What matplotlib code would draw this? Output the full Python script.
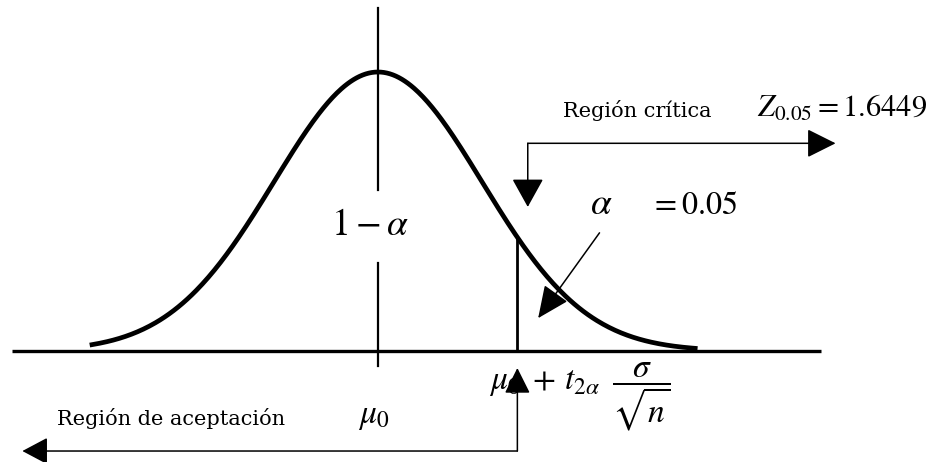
import numpy as np
import matplotlib
matplotlib.use("Agg")
import matplotlib.pyplot as plt

plt.rcParams['font.family'] = ['Liberation Serif', 'DejaVu Serif']
plt.rcParams['mathtext.fontset'] = 'stix'

# data (x in sigma units, y = normal density)
mu = 0.0
sigma = 1.0
crit = 1.34          # where the critical line is drawn
curve_range = [-2.75, 3.05]
axis_range = [-3.52, 4.26]
alpha_label = '0.05'
z_label = '1.6449'

x = np.linspace(curve_range[0], curve_range[1], 400)
y = np.exp(-0.5 * ((x - mu) / sigma) ** 2) / (sigma * np.sqrt(2 * np.pi))
y_crit = np.exp(-0.5 * ((crit - mu) / sigma) ** 2) / (sigma * np.sqrt(2 * np.pi))

fig = plt.figure(figsize=(9.35, 4.62), dpi=100)
ax = fig.add_axes([0, 0, 1, 1])
ax.set_xlim(-3.635, 5.356)
ax.set_ylim(-0.1587, 0.5019)
ax.axis('off')

# horizontal axis and bell curve
ax.plot(axis_range, [0, 0], color='black', lw=2.4, solid_capstyle='butt')
ax.plot(x, y, color='black', lw=3.4)

# centre line, broken around the "1 - alpha" label
ax.plot([mu, mu], [0.490, 0.230], color='black', lw=1.6)
ax.plot([mu, mu], [0.126, -0.021], color='black', lw=1.6)
ax.text(-0.08, 0.179, r'$1-\alpha$', fontsize=27, ha='center', va='center')

# critical value line
ax.plot([crit, crit], [0, y_crit], color='black', lw=2.0)

head = dict(color='black', lw=1.1, shrinkA=0, shrinkB=0, mutation_scale=10)
label_font = ['DejaVu Serif']

# critical region arrow (elbow)
ax.annotate('', xy=(4.40, 0.297), xytext=(1.44, 0.297),
            arrowprops=dict(arrowstyle='-|>,head_length=1.8,head_width=0.9', **head))
ax.annotate('', xy=(1.44, 0.206), xytext=(1.44, 0.297),
            arrowprops=dict(arrowstyle='-|>,head_length=1.8,head_width=1.0', **head))
ax.text(1.78, 0.335, 'Región crítica', fontsize=15, family=label_font,
        ha='left', va='baseline')
ax.text(3.64, 0.335, r'$Z_{0.05} = ' + z_label + '$', fontsize=22, ha='left', va='baseline')

# alpha label and arrow into the tail
ax.text(2.04, 0.196, r'$\alpha$', fontsize=27, ha='left', va='baseline')
ax.text(2.62, 0.196, r'$= ' + alpha_label + '$', fontsize=23, ha='left', va='baseline')
ax.annotate('', xy=(1.54, 0.047), xytext=(2.13, 0.169),
            arrowprops=dict(arrowstyle='-|>,head_length=2.0,head_width=0.9', **head))

# acceptance region arrow (elbow)
ax.annotate('', xy=(crit, -0.0243), xytext=(crit, -0.143),
            arrowprops=dict(arrowstyle='-|>,head_length=1.6,head_width=0.8', **head))
ax.annotate('', xy=(-3.42, -0.143), xytext=(crit, -0.143),
            arrowprops=dict(arrowstyle='-|>,head_length=1.6,head_width=0.85', **head))
ax.text(-3.09, -0.106, 'Región de aceptación', fontsize=15, family=label_font,
        ha='left', va='baseline')

# labels under the axis
ax.text(-0.04, -0.094, r'$\mu_0$', fontsize=24, ha='center', va='center')
ax.text(1.07, -0.066, r'$\mu_0\;+\,t_{2\alpha}\;\;\dfrac{\sigma}{\sqrt{n}}$',
        fontsize=24, ha='left', va='center')

plt.savefig('out.png', dpi=100)
